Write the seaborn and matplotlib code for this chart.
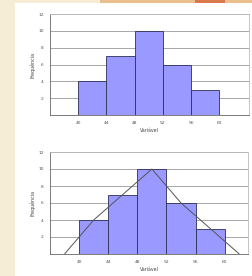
import numpy as np
import matplotlib
matplotlib.use("Agg")
import matplotlib.pyplot as plt
import seaborn as sns

# Histogram data (class edges and frequencies)
bin_edges = [40, 44, 48, 52, 56, 60]
class_mids = [42, 46, 50, 54, 58]
frequencies = [4, 7, 10, 6, 3]

# Frequency polygon (closed at the neighbouring empty classes)
poly_x = [38, 42, 46, 50, 54, 58, 62]
poly_y = [0, 4, 7, 10, 6, 3, 0]

y_ticks = [0, 2, 4, 6, 8, 10, 12]
x_label = "Variável"
y_label = "Frequência"

sns.set_style("white")
plt.rcParams['font.family'] = ['DejaVu Sans']

fig = plt.figure(figsize=(2.52, 2.76), dpi=100)
fig.patch.set_facecolor('#f5edd6')

# background layer: white slide panel + warm strip at the top
bg = fig.add_axes([0, 0, 1, 1], zorder=-10)
bg.set_xlim(0, 252)
bg.set_ylim(276, 0)
bg.axis('off')
bg.add_patch(plt.Rectangle((15, 3), 240, 280, facecolor='white', edgecolor='none'))
bg.add_patch(plt.Rectangle((100, 0), 152, 3, facecolor='#ecc08e', edgecolor='none'))
bg.add_patch(plt.Rectangle((195, 0), 30, 3, facecolor='#d9784a', edgecolor='none'))


def style_axis(ax, xmax):
    ax.set_xlim(36, xmax)
    ax.set_ylim(0, 12)
    ax.set_yticks(y_ticks)
    ax.set_yticklabels([''] + [str(t) for t in y_ticks[1:]])
    ax.set_xticks(bin_edges)
    ax.tick_params(labelsize=3.2, colors='#555555', length=1.5, width=0.4, pad=3)
    ax.grid(axis='y', color='#999999', linewidth=0.6)
    ax.set_axisbelow(True)
    for side, sp in ax.spines.items():
        sp.set_visible(True)
        sp.set_linewidth(0.6)
        sp.set_color('#bbbbbb')
    ax.spines['left'].set_color('#666666')
    ax.spines['bottom'].set_color('#666666')
    ax.set_xlabel(x_label, fontsize=3.4, color='#444444', labelpad=2)
    ax.set_ylabel(y_label, fontsize=3.4, color='#444444', labelpad=2)
    ax.set_facecolor('white')


ax1 = fig.add_axes([50 / 252, 1 - 115 / 276, 199 / 252, 101 / 276])
sns.histplot(x=class_mids, weights=frequencies, bins=bin_edges, ax=ax1,
             color='#9999ff', alpha=1, edgecolor='#2e2e5a', linewidth=0.6)
style_axis(ax1, 64.2)

ax2 = fig.add_axes([50 / 252, 1 - 254 / 276, 198 / 252, 102 / 276])
sns.histplot(x=class_mids, weights=frequencies, bins=bin_edges, ax=ax2,
             color='#9999ff', alpha=1, edgecolor='#2e2e5a', linewidth=0.6)
sns.lineplot(x=poly_x, y=poly_y, ax=ax2, color='#555555', linewidth=0.7)
style_axis(ax2, 63.2)

fig.savefig('out.png', dpi=100, facecolor=fig.get_facecolor())
